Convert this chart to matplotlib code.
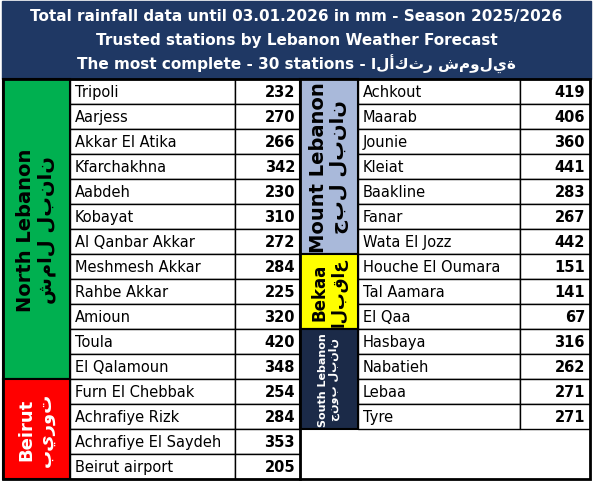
import matplotlib.pyplot as plt
from matplotlib.patches import Rectangle

plt.rcParams['font.family'] = ['DejaVu Sans']

title_lines = ["Total rainfall data until 03.01.2026 in mm - Season 2025/2026",
               "Trusted stations by Lebanon Weather Forecast",
               "The most complete - 30 stations - الأكثر شمولية"]

left_names = ["Tripoli", "Aarjess", "Akkar El Atika", "Kfarchakhna", "Aabdeh", "Kobayat",
              "Al Qanbar Akkar", "Meshmesh Akkar", "Rahbe Akkar", "Amioun", "Toula",
              "El Qalamoun", "Furn El Chebbak", "Achrafiye Rizk", "Achrafiye El Saydeh",
              "Beirut airport"]
left_values = [232, 270, 266, 342, 230, 310, 272, 284, 225, 320, 420, 348, 254, 284, 353, 205]

right_names = ["Achkout", "Maarab", "Jounie", "Kleiat", "Baakline", "Fanar", "Wata El Jozz",
               "Houche El Oumara", "Tal Aamara", "El Qaa", "Hasbaya", "Nabatieh", "Lebaa", "Tyre"]
right_values = [419, 406, 360, 441, 283, 267, 442, 151, 141, 67, 316, 262, 271, 271]

# (label, first row, row count, colour, text colour, font size)
left_regions = [("North Lebanon\nشمال لبنان", 0, 12, "#00B050", "black", 14),
                ("Beirut\nبيروت", 12, 4, "#FF0000", "white", 13)]
right_regions = [("Mount Lebanon\nجبل لبنان", 0, 7, "#A9B9DA", "black", 14),
                 ("Bekaa\nالبقاع", 7, 3, "#FFFF00", "black", 12),
                 ("South Lebanon\nجنوب لبنان", 10, 4, "#1B2A48", "white", 8)]

W, H = 593, 485
fig = plt.figure(figsize=(W / 100, H / 100), dpi=100)
ax = fig.add_axes([0, 0, 1, 1])
ax.set_xlim(0, W)
ax.set_ylim(H, 0)
ax.axis('off')

navy = "#1F3864"
top = 80
rh = 25
ax.add_patch(Rectangle((2, 2), W - 4, top - 2, color=navy))
for i, t in enumerate(title_lines):
    ax.text(W / 2, 16 + i * 24, t, color="white", fontsize=11, fontweight="bold",
            ha="center", va="center")


def draw_side(x0, xn, xv, x1, names, values, regions):
    for label, r0, n, col, tcol, fs in regions:
        ax.add_patch(Rectangle((x0, top + r0 * rh), xn - x0, n * rh, facecolor=col,
                               edgecolor="black", lw=1.5))
        ax.text((x0 + xn) / 2, top + (r0 + n / 2) * rh, label, rotation=90, color=tcol,
                fontsize=fs, fontweight="bold", ha="center", va="center",
                multialignment="center", linespacing=1.1)
    for i, (nm, v) in enumerate(zip(names, values)):
        y = top + i * rh
        ax.add_patch(Rectangle((xn, y), xv - xn, rh, facecolor="white", edgecolor="black", lw=1))
        ax.add_patch(Rectangle((xv, y), x1 - xv, rh, facecolor="white", edgecolor="black", lw=1))
        ax.text(xn + 5, y + rh / 2, nm, fontsize=10.5, ha="left", va="center")
        ax.text(x1 - 5, y + rh / 2, str(v), fontsize=10.5, fontweight="bold",
                ha="right", va="center")


draw_side(3, 70, 235, 300, left_names, left_values, left_regions)
draw_side(300, 358, 520, 590, right_names, right_values, right_regions)
ax.add_patch(Rectangle((3, top), 587, 16 * rh, fill=False, edgecolor="black", lw=2))
ax.plot([300, 300], [top, top + 16 * rh], color="black", lw=2)

fig.savefig("out.png", dpi=100)
